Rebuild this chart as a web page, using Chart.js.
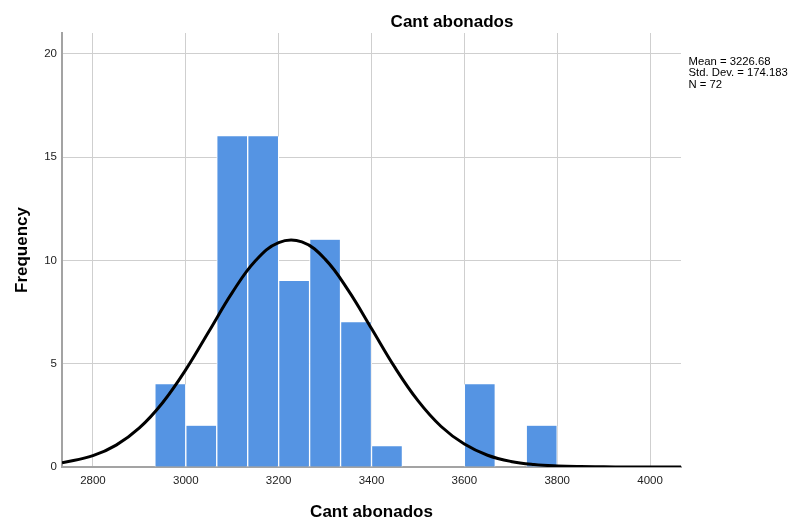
<!DOCTYPE html>
<html>
<head>
<meta charset="utf-8">
<script src="https://cdn.jsdelivr.net/npm/chart.js@4/dist/chart.umd.min.js"></script>
<style>
  html, body { margin: 0; padding: 0; background: #fff; }
  #wrap { width: 791px; height: 521px; position: relative; }
</style>
</head>
<body>
<div id="wrap"><canvas id="c" width="791" height="521"></canvas></div>
<script>
// ---- Data ----
const chartTitle = "Cant abonados";
const xAxisTitle = "Cant abonados";
const yAxisTitle = "Frequency";
const statsLines = ["Mean = 3226.68", "Std. Dev. = 174.183", "N = 72"];

// histogram bins: centres of each 66.67-wide bin and frequencies
const binCenters = [2966.67, 3033.33, 3100, 3166.67, 3233.33, 3300, 3366.67, 3433.33, 3500, 3566.67, 3633.33, 3700, 3766.67];
const binCounts  = [4, 2, 16, 16, 9, 11, 7, 1, 0, 0, 4, 0, 2];

// normal curve points
const curveX = [2733.33, 2800, 2850, 2900, 2950, 3000, 3050, 3100, 3150, 3200, 3250, 3300, 3350, 3400, 3450, 3500, 3550, 3600, 3650, 3700, 3750, 3800, 3850, 3900, 3950, 4000, 4066.67];
const curveY = [0.20, 0.55, 1.06, 1.89, 3.11, 4.71, 6.57, 8.44, 9.98, 10.86, 10.89, 10.06, 8.55, 6.70, 4.83, 3.21, 1.96, 1.11, 0.57, 0.27, 0.12, 0.05, 0.02, 0.01, 0, 0, 0];

const xTicks = [2800, 3000, 3200, 3400, 3600, 3800, 4000];
const yTicks = [0, 5, 10, 15, 20];
const xMin = 2733.33, xMax = 4066.67, yMin = 0, yMax = 21;

const FONT = "'Liberation Sans', Arial, sans-serif";

const textPlugin = {
  id: 'texts',
  afterDraw(chart) {
    const ctx = chart.ctx;
    const area = chart.chartArea;
    ctx.save();
    ctx.fillStyle = '#000';
    ctx.font = "bold 17px " + FONT;
    ctx.textAlign = 'center';
    ctx.textBaseline = 'alphabetic';
    ctx.fillText(chartTitle, 452, 26.5);
    ctx.fillText(xAxisTitle, (area.left + area.right) / 2, 517);
    ctx.save();
    ctx.translate(27, (area.top + area.bottom) / 2);
    ctx.rotate(-Math.PI / 2);
    ctx.fillText(yAxisTitle, 0, 0);
    ctx.restore();
    ctx.font = "11.3px " + FONT;
    ctx.textAlign = 'left';
    ctx.textBaseline = 'middle';
    statsLines.forEach((s, i) => ctx.fillText(s, 688.5, 61.8 + i * 11.3));
    ctx.restore();
  }
};

new Chart(document.getElementById('c'), {
  data: {
    datasets: [
      {
        type: 'line',
        data: curveX.map((x, i) => ({ x: x, y: curveY[i] })),
        borderColor: '#000',
        borderWidth: 3,
        pointRadius: 0,
        tension: 0.4,
        fill: false,
        order: 0
      },
      {
        type: 'bar',
        data: binCenters.map((x, i) => ({ x: x, y: binCounts[i] })),
        backgroundColor: '#5594e3',
        borderColor: '#ffffff',
        borderWidth: { left: 1, right: 1, top: 0, bottom: 0 },
        borderSkipped: false,
        barPercentage: 1,
        categoryPercentage: 1,
        grouped: false,
        order: 1
      }
    ]
  },
  options: {
    responsive: false,
    animation: false,
    devicePixelRatio: 1,
    layout: { padding: { top: 33, right: 110, left: 0, bottom: 0 } },
    plugins: { legend: { display: false }, tooltip: { enabled: false }, title: { display: false } },
    scales: {
      x: {
        type: 'linear',
        min: xMin, max: xMax,
        offset: false,
        afterFit(s) { s.height = 54; },
        afterBuildTicks(s) { s.ticks = xTicks.map(v => ({ value: v })); },
        ticks: { color: '#222', font: { family: FONT, size: 11.5 }, padding: 7, autoSkip: false, maxRotation: 0,
                 callback: v => String(v) },
        grid: { color: '#cfcfcf', lineWidth: 1, drawTicks: false, offset: false },
        border: { display: true, color: '#a3a3a3', width: 2 }
      },
      y: {
        type: 'linear',
        min: yMin, max: yMax,
        afterFit(s) { s.width = 62; },
        afterBuildTicks(s) { s.ticks = yTicks.map(v => ({ value: v })); },
        ticks: { color: '#222', font: { family: FONT, size: 11.5 }, padding: 5, callback: v => String(v) },
        grid: { color: '#cfcfcf', lineWidth: 1, drawTicks: false, offset: false },
        border: { display: true, color: '#a3a3a3', width: 2 }
      }
    }
  },
  plugins: [textPlugin]
});
</script>
</body>
</html>
